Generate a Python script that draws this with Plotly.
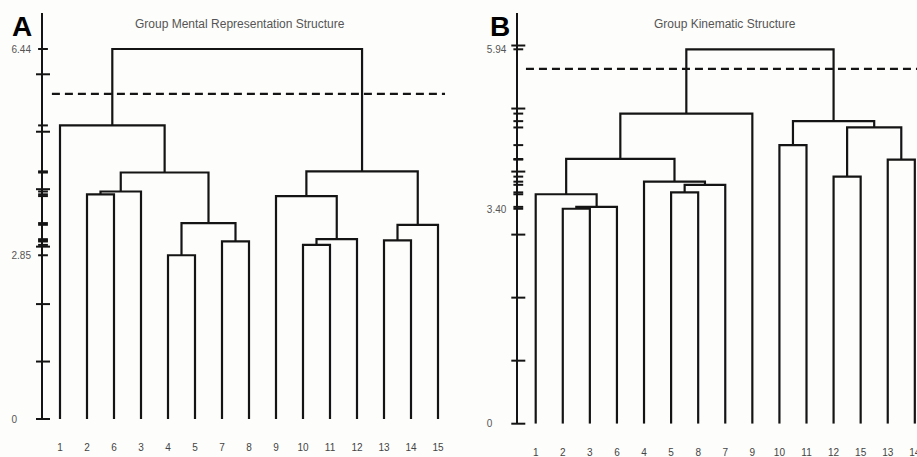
import plotly.graph_objects as go

W, H = 917, 457

# ---------------- data ----------------
title_a = "Group Mental Representation Structure"
leaves_a = ["1", "2", "6", "3", "4", "5", "7", "8", "9", "10", "11", "12", "13", "14", "15"]
merges_a = [
    ("4", "5", 2.85),
    ("7", "8", 3.09),
    ("c0", "c1", 3.41),
    ("2", "6", 3.91),
    ("c3", "3", 3.96),
    ("c4", "c2", 4.29),
    ("1", "c5", 5.11),
    ("10", "11", 3.03),
    ("c7", "12", 3.13),
    ("9", "c8", 3.88),
    ("13", "14", 3.11),
    ("c10", "15", 3.38),
    ("c9", "c11", 4.31),
    ("c6", "c12", 6.44),
]
cut_a = 5.66
ylabels_a = [0, 2.85, 6.44]

title_b = "Group Kinematic Structure"
leaves_b = ["1", "2", "3", "6", "4", "5", "8", "7", "9", "10", "11", "12", "15", "13", "14"]
merges_b = [
    ("2", "3", 3.41),
    ("c0", "6", 3.44),
    ("1", "c1", 3.64),
    ("5", "8", 3.67),
    ("c3", "7", 3.79),
    ("4", "c4", 3.84),
    ("c2", "c5", 4.20),
    ("c6", "9", 4.92),
    ("10", "11", 4.42),
    ("12", "15", 3.92),
    ("13", "14", 4.19),
    ("c9", "c10", 4.70),
    ("c8", "c11", 4.80),
    ("c7", "c12", 5.94),
]
cut_b = 5.63
ylabels_b = [0, 3.40, 5.94]

int_ticks = [0, 1, 2, 3, 4, 5, 6]


def dendro_xy(leaves, merges):
    pos = {leaf: (i, 0.0) for i, leaf in enumerate(leaves)}
    xs, ys = [], []
    for k, (a, b, h) in enumerate(merges):
        xa, ya = pos[a]
        xb, yb = pos[b]
        xs += [xa, xa, xb, xb, None]
        ys += [ya, h, h, yb, None]
        pos[f"c{k}"] = ((xa + xb) / 2, h)
    return xs, ys


def fx(px):
    return px / W


def fy(py):
    return 1 - py / H


INK = "#141414"
GREY = "#555555"
FONT = "Liberation Sans, Arial, sans-serif"

fig = go.Figure()

panels = [
    dict(leaves=leaves_a, merges=merges_a, cut=cut_a, ylabels=ylabels_a, fmt="{:.2f}",
         xa="x", ya="y", axl=43.0, leaf0=60.0, step=27.0, right=450.0,
         y0=419.0, ytop_px=13.0, topval=6.44, toppx=49.0, cutx=(-0.3, 14.26)),
    dict(leaves=leaves_b, merges=merges_b, cut=cut_b, ylabels=ylabels_b, fmt="{:.2f}",
         xa="x2", ya="y2", axl=518.3, leaf0=535.7, step=27.08, right=917.0,
         y0=423.7, ytop_px=13.0, topval=5.94, toppx=49.3, cutx=(-0.36, 14.6)),
]

for i, p in enumerate(panels):
    xs, ys = dendro_xy(p["leaves"], p["merges"])
    fig.add_trace(go.Scatter(x=xs, y=ys, mode="lines", xaxis=p["xa"], yaxis=p["ya"],
                             line=dict(color=INK, width=2.2), hoverinfo="skip", showlegend=False))
    # cut-off dashed line
    fig.add_trace(go.Scatter(x=list(p["cutx"]), y=[p["cut"], p["cut"]], mode="lines",
                             xaxis=p["xa"], yaxis=p["ya"],
                             line=dict(color=INK, width=2.2, dash="8px,5px"),
                             hoverinfo="skip", showlegend=False))
    xmin = (p["axl"] - p["leaf0"]) / p["step"]
    xmax = (p["right"] - p["leaf0"]) / p["step"]
    ytop = p["topval"] * (p["y0"] - p["ytop_px"]) / (p["y0"] - p["toppx"])
    # integer ticks on the axis
    fig.add_trace(go.Scatter(x=[xmin] * len(int_ticks), y=int_ticks, mode="markers",
                             xaxis=p["xa"], yaxis=p["ya"], cliponaxis=False,
                             marker=dict(symbol="line-ew", size=10, line=dict(color=INK, width=2)),
                             hoverinfo="skip", showlegend=False))
    # merge-height marks on the axis
    mh = [m[2] for m in p["merges"]]
    fig.add_trace(go.Scatter(x=[xmin] * len(mh), y=mh, mode="markers",
                             xaxis=p["xa"], yaxis=p["ya"], cliponaxis=False,
                             marker=dict(symbol="line-ew", size=7, line=dict(color=INK, width=2)),
                             hoverinfo="skip", showlegend=False))
    xkey = "xaxis" if i == 0 else "xaxis2"
    ykey = "yaxis" if i == 0 else "yaxis2"
    ticktext = []
    for v in p["ylabels"]:
        if v == 0:
            ticktext.append("0" + "\u00a0" * 5)
        else:
            ticktext.append(p["fmt"].format(v))
    fig.update_layout(**{
        xkey: dict(domain=[fx(p["axl"]), fx(min(p["right"], W))], range=[xmin, xmax],
                   anchor=p["ya"], showgrid=False, zeroline=False, showline=False,
                   automargin=False, ticklabeloverflow="allow",
                   tickmode="array", tickvals=list(range(len(p["leaves"]))),
                   ticktext=p["leaves"], ticks="outside", ticklen=19,
                   tickcolor="rgba(0,0,0,0)",
                   tickfont=dict(family=FONT, size=10, color="#444444"), fixedrange=True),
        ykey: dict(domain=[fy(p["y0"]), fy(p["ytop_px"])], range=[0, ytop],
                   anchor=p["xa"], showgrid=False, zeroline=False, showline=True,
                   automargin=False,
                   linecolor=INK, linewidth=2,
                   tickmode="array", tickvals=p["ylabels"], ticktext=ticktext,
                   ticks="outside", ticklen=8, tickcolor="rgba(0,0,0,0)",
                   tickfont=dict(family=FONT, size=10, color=GREY), fixedrange=True),
    })

annotations = [
    dict(text=title_a, x=fx(240), y=fy(24), xref="paper", yref="paper",
         showarrow=False, xanchor="center", yanchor="middle",
         font=dict(family=FONT, size=12, color=GREY)),
    dict(text=title_b, x=fx(724.7), y=fy(24), xref="paper", yref="paper",
         showarrow=False, xanchor="center", yanchor="middle",
         font=dict(family=FONT, size=12, color=GREY)),
    dict(text="<b>A</b>", x=fx(21.5), y=fy(26), xref="paper", yref="paper",
         showarrow=False, xanchor="center", yanchor="middle",
         font=dict(family=FONT, size=28, color="#000000")),
    dict(text="<b>B</b>", x=fx(500), y=fy(26), xref="paper", yref="paper",
         showarrow=False, xanchor="center", yanchor="middle",
         font=dict(family=FONT, size=28, color="#000000")),
]

fig.update_layout(width=W, height=H,
                  margin=dict(l=0, r=0, t=0, b=0, pad=0, autoexpand=False),
                  paper_bgcolor="#fdfdfb", plot_bgcolor="#fdfdfb",
                  showlegend=False, annotations=annotations)

fig.write_html("out.html", config={"displayModeBar": False},
               post_script="document.body.style.margin='0';document.body.style.padding='0';"
                           "document.documentElement.style.overflow='hidden';")
